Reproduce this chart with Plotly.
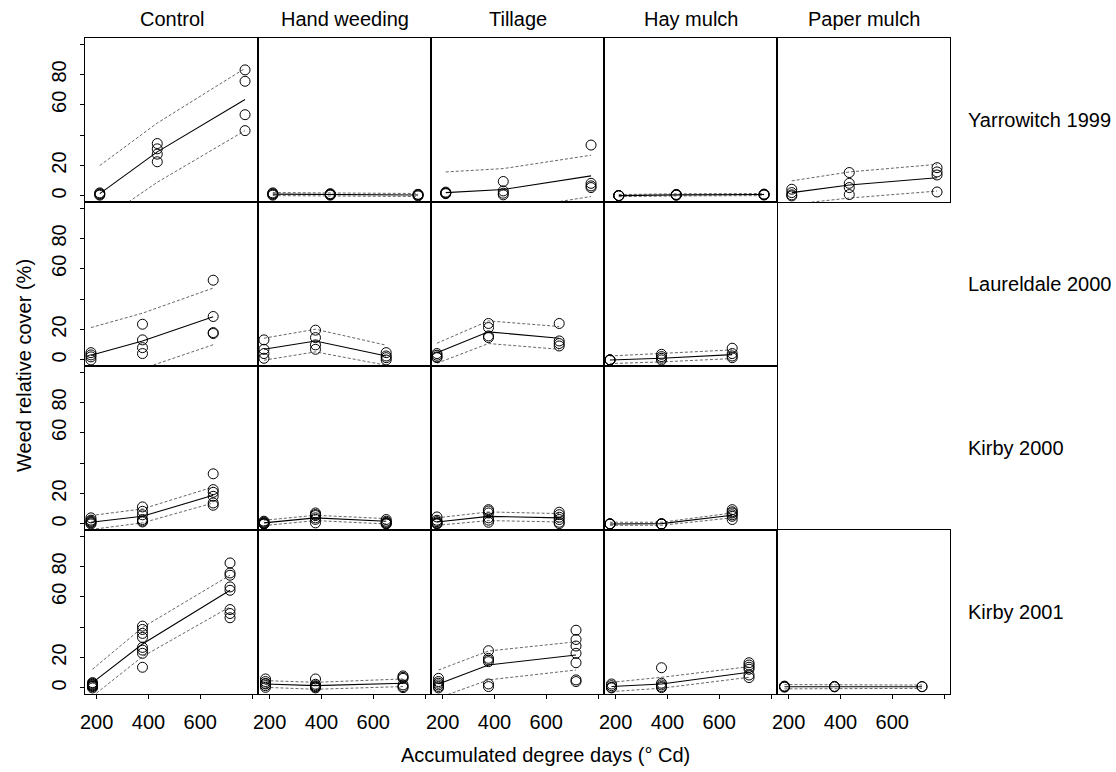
import plotly.graph_objects as go
from plotly.subplots import make_subplots

# ---------------- data ----------------
treatments = ["Control", "Hand weeding", "Tillage", "Hay mulch", "Paper mulch"]
sites = ["Yarrowitch 1999", "Laureldale 2000", "Kirby 2000", "Kirby 2001"]

x_ticks = [200, 400, 600, 800]
x_ticklabels = ["200", "400", "600", ""]
y_ticks = [0, 20, 40, 60, 80, 100]
y_ticklabels = ["0", "20", "", "60", "80", ""]

# sampling times (accumulated degree days) per site
days_yar99 = [212, 434, 773]
days_lau00 = [178, 377, 650]
days_kir00 = [178, 377, 650]
days_kir01 = [184, 377, 715]

# ---- Yarrowitch 1999 ----
yar99_control_obs = [[0.5, 1.0, 2.0, 1.5], [34.5, 31.0, 27.5, 22.5], [83.0, 75.5, 53.5, 43.0]]
yar99_control_fit = [1.5, 29.0, 63.5]
yar99_control_lo = [-17.0, 9.0, 43.0]
yar99_control_hi = [20.0, 48.0, 84.0]

yar99_hand_obs = [[1.5, 0.5, 1.0, 2.0], [1.0, 0.5, 1.5, 1.0], [0.5, 1.0, 0.0, 1.0]]
yar99_hand_fit = [1.2, 1.0, 0.6]
yar99_hand_lo = [0.2, 0.0, -0.4]
yar99_hand_hi = [2.2, 2.0, 1.6]

yar99_till_obs = [[2.0, 1.5, 2.5, 1.8], [9.5, 3.3, 1.8, 0.7], [33.5, 8.3, 6.6, 5.5]]
yar99_till_fit = [2.2, 4.2, 13.2]
yar99_till_lo = [-11.4, -9.6, -0.4]
yar99_till_hi = [15.8, 18.0, 26.8]

yar99_hay_obs = [[0.2, 0.2, 0.2, 0.2], [0.5, 0.8, 1.0, 0.6], [0.6, 1.0, 1.2, 0.8]]
yar99_hay_fit = [0.2, 0.7, 0.9]
yar99_hay_lo = [-0.5, 0.0, 0.2]
yar99_hay_hi = [0.9, 1.4, 1.6]

yar99_paper_obs = [[4.4, 2.2, 0.7, 0.0], [15.4, 8.3, 5.5, 0.9], [18.6, 15.8, 13.8, 2.6]]
yar99_paper_fit = [2.2, 7.2, 12.0]
yar99_paper_lo = [-5.5, -1.4, 3.2]
yar99_paper_hi = [9.9, 15.8, 20.8]

# ---- Laureldale 2000 ----
lau00_control_obs = [[4.8, 3.3, 2.0, 0.0], [23.5, 13.2, 8.1, 4.2], [52.5, 28.6, 18.0, 17.4]]
lau00_control_fit = [3.1, 12.5, 28.4]
lau00_control_lo = [-15.0, -5.8, 10.0]
lau00_control_hi = [21.3, 30.8, 47.3]

lau00_hand_obs = [[13.2, 7.0, 4.2, 1.1], [19.6, 14.7, 9.9, 7.0], [4.8, 2.6, 1.5, 0.0]]
lau00_hand_fit = [7.0, 12.5, 2.6]
lau00_hand_lo = [-0.2, 5.3, -3.5]
lau00_hand_hi = [14.3, 20.2, 9.7]

lau00_till_obs = [[4.2, 3.1, 2.0, 1.5], [24.0, 21.3, 15.8, 14.7], [24.0, 12.5, 10.8, 9.2]]
lau00_till_fit = [4.8, 18.5, 14.3]
lau00_till_lo = [-2.2, 10.8, 7.0]
lau00_till_hi = [11.0, 25.7, 22.0]

lau00_hay_obs = [[0.0, 0.0, 0.0, 0.0], [3.7, 2.2, 1.1, 0.0], [7.7, 4.2, 2.6, 1.5]]
lau00_hay_fit = [0.0, 1.1, 3.5]
lau00_hay_lo = [-2.4, -1.3, 0.9]
lau00_hay_hi = [2.6, 4.2, 6.6]

# ---- Kirby 2000 ----
kir00_control_obs = [[4.0, 1.8, 0.7, 0.0, 1.2, 2.5], [11.2, 8.3, 2.9, 1.3, 6.0, 2.0],
                     [33.0, 22.6, 20.8, 18.2, 13.8, 12.3]]
kir00_control_fit = [1.1, 5.0, 18.9]
kir00_control_lo = [-3.7, 0.7, 13.8]
kir00_control_hi = [5.5, 9.9, 24.3]

kir00_hand_obs = [[1.8, 0.7, 0.0, 0.3, 1.2, 0.0], [7.2, 5.5, 4.0, 0.7, 6.2, 3.0],
                  [2.9, 1.1, 0.2, 0.0, 1.8, 0.6]]
kir00_hand_fit = [0.7, 4.0, 1.8]
kir00_hand_lo = [-1.1, 2.2, 0.0]
kir00_hand_hi = [2.4, 5.7, 3.5]

kir00_till_obs = [[4.6, 2.4, 0.7, 0.0, 1.5, 0.3], [9.4, 7.2, 4.0, 1.1, 8.5, 2.5],
                  [7.7, 6.1, 4.4, 2.9, 1.1, 0.2]]
kir00_till_fit = [1.3, 5.0, 4.0]
kir00_till_lo = [-0.9, 2.2, 1.3]
kir00_till_hi = [4.0, 7.9, 6.8]

kir00_hay_obs = [[0.0, 0.0, 0.0, 0.0], [0.0, 0.0, 0.0, 0.0], [9.4, 7.2, 5.0, 2.9, 8.0, 6.0]]
kir00_hay_fit = [0.0, 0.2, 5.7]
kir00_hay_lo = [-0.9, -0.9, 4.0]
kir00_hay_hi = [1.1, 1.1, 7.2]

# ---- Kirby 2001 ----
kir01_control_obs = [[3.5, 2.4, 1.5, 0.9, 0.0, 2.0, 1.0, 3.0],
                     [40.7, 38.5, 35.9, 33.3, 26.7, 24.9, 22.8, 13.6],
                     [82.3, 75.7, 74.2, 66.5, 64.3, 51.6, 49.0, 46.2]]
kir01_control_fit = [3.5, 28.9, 64.3]
kir01_control_lo = [-5.5, 20.6, 53.4]
kir01_control_hi = [12.3, 39.8, 74.2]

kir01_hand_obs = [[5.9, 4.2, 2.6, 1.5, 0.4, 3.0], [5.9, 2.4, 0.9, 0.0, 1.5, 0.5],
                  [7.9, 6.3, 2.0, 0.9, 0.2, 7.0]]
kir01_hand_fit = [2.6, 1.5, 3.1]
kir01_hand_lo = [0.4, -0.9, 0.9]
kir01_hand_hi = [4.8, 3.7, 5.9]

kir01_till_obs = [[6.3, 4.2, 3.1, 2.0, 0.9, 0.0], [24.5, 19.5, 18.4, 17.3, 2.6, 0.9],
                  [38.0, 31.9, 27.6, 22.8, 16.6, 5.3, 4.2]]
kir01_till_fit = [2.6, 15.1, 21.7]
kir01_till_lo = [-6.6, 5.3, 11.8]
kir01_till_hi = [11.8, 24.3, 30.4]

kir01_hay_obs = [[2.6, 1.5, 0.4, 0.0], [13.3, 3.1, 2.0, 0.9, 0.2], [16.6, 15.1, 13.6, 12.3, 8.5, 6.8]]
kir01_hay_fit = [0.9, 2.6, 10.3]
kir01_hay_lo = [-2.4, -0.2, 7.0]
kir01_hay_hi = [3.7, 7.0, 14.0]

kir01_paper_obs = [[0.9, 0.5, 1.2, 0.8], [0.9, 0.7, 1.0], [0.9, 0.8]]
kir01_paper_fit = [0.8, 0.8, 0.8]
kir01_paper_lo = [-0.6, -0.4, -0.3]
kir01_paper_hi = [2.2, 2.0, 1.9]

# panel table built from the named arrays: (row, col) -> (days, obs, fit, lo, hi)
panels = {
    (1, 1): (days_yar99, yar99_control_obs, yar99_control_fit, yar99_control_lo, yar99_control_hi),
    (1, 2): (days_yar99, yar99_hand_obs, yar99_hand_fit, yar99_hand_lo, yar99_hand_hi),
    (1, 3): (days_yar99, yar99_till_obs, yar99_till_fit, yar99_till_lo, yar99_till_hi),
    (1, 4): (days_yar99, yar99_hay_obs, yar99_hay_fit, yar99_hay_lo, yar99_hay_hi),
    (1, 5): (days_yar99, yar99_paper_obs, yar99_paper_fit, yar99_paper_lo, yar99_paper_hi),
    (2, 1): (days_lau00, lau00_control_obs, lau00_control_fit, lau00_control_lo, lau00_control_hi),
    (2, 2): (days_lau00, lau00_hand_obs, lau00_hand_fit, lau00_hand_lo, lau00_hand_hi),
    (2, 3): (days_lau00, lau00_till_obs, lau00_till_fit, lau00_till_lo, lau00_till_hi),
    (2, 4): (days_lau00, lau00_hay_obs, lau00_hay_fit, lau00_hay_lo, lau00_hay_hi),
    (3, 1): (days_kir00, kir00_control_obs, kir00_control_fit, kir00_control_lo, kir00_control_hi),
    (3, 2): (days_kir00, kir00_hand_obs, kir00_hand_fit, kir00_hand_lo, kir00_hand_hi),
    (3, 3): (days_kir00, kir00_till_obs, kir00_till_fit, kir00_till_lo, kir00_till_hi),
    (3, 4): (days_kir00, kir00_hay_obs, kir00_hay_fit, kir00_hay_lo, kir00_hay_hi),
    (4, 1): (days_kir01, kir01_control_obs, kir01_control_fit, kir01_control_lo, kir01_control_hi),
    (4, 2): (days_kir01, kir01_hand_obs, kir01_hand_fit, kir01_hand_lo, kir01_hand_hi),
    (4, 3): (days_kir01, kir01_till_obs, kir01_till_fit, kir01_till_lo, kir01_till_hi),
    (4, 4): (days_kir01, kir01_hay_obs, kir01_hay_fit, kir01_hay_lo, kir01_hay_hi),
    (4, 5): (days_kir01, kir01_paper_obs, kir01_paper_fit, kir01_paper_lo, kir01_paper_hi),
}

# ---------------- figure ----------------
W, H = 1116, 772
ML, MR, MT, MB = 85, 166, 38, 78
PW, PH = W - ML - MR, H - MT - MB
FONT = "Liberation Sans, Arial, Helvetica, sans-serif"

fig = make_subplots(rows=4, cols=5, horizontal_spacing=0, vertical_spacing=0)

for (r, c), (days, obs, fit, lo, hi) in panels.items():
    for band in (lo, hi):
        fig.add_trace(go.Scatter(x=days, y=band, mode="lines",
                                 line=dict(color="#555555", width=0.9, dash="3px,2px"),
                                 hoverinfo="skip", showlegend=False), row=r, col=c)
    fig.add_trace(go.Scatter(x=days, y=fit, mode="lines",
                             line=dict(color="black", width=1.1),
                             showlegend=False), row=r, col=c)
    xs, ys = [], []
    for d, vals in zip(days, obs):
        xs += [d] * len(vals)
        ys += vals
    fig.add_trace(go.Scatter(x=xs, y=ys, mode="markers",
                             marker=dict(symbol="circle-open", size=10, color="black",
                                         line=dict(width=1, color="black")),
                             cliponaxis=True, showlegend=False), row=r, col=c)

for r in range(1, 5):
    for c in range(1, 6):
        fig.update_xaxes(range=[155, 823], showline=True, mirror=True, linecolor="black",
                         linewidth=1, showgrid=False, zeroline=False, fixedrange=True,
                         row=r, col=c)
        fig.update_yaxes(range=[-4, 104], showline=True, mirror=True, linecolor="black",
                         linewidth=1, showgrid=False, zeroline=False, fixedrange=True,
                         row=r, col=c)
        if r == 4:
            fig.update_xaxes(ticks="outside", ticklen=4, tickcolor="black", tickwidth=1,
                             tickvals=x_ticks, ticktext=x_ticklabels,
                             tickfont=dict(family=FONT, size=20, color="black"),
                             ticklabelstandoff=6, row=r, col=c)
        else:
            fig.update_xaxes(showticklabels=False, ticks="", row=r, col=c)
        if c == 1:
            fig.update_yaxes(ticks="outside", ticklen=4, tickcolor="black", tickwidth=1,
                             tickvals=y_ticks, ticktext=y_ticklabels, tickangle=-90,
                             tickfont=dict(family=FONT, size=20, color="black"),
                             ticklabelstandoff=6, row=r, col=c)
        else:
            fig.update_yaxes(showticklabels=False, ticks="", row=r, col=c)

ann = []
for i, t in enumerate(treatments):
    ann.append(dict(text=t, x=(i + 0.5) / 5, y=1 + 19 / PH, xref="paper", yref="paper",
                    xanchor="center", yanchor="middle", showarrow=False,
                    font=dict(family=FONT, size=20, color="black")))
for j, s in enumerate(sites):
    ann.append(dict(text=s, x=(966 - ML) / PW, y=1 - (j + 0.5) / 4, xref="paper", yref="paper",
                    xanchor="left", yanchor="middle", showarrow=False,
                    font=dict(family=FONT, size=20, color="black")))
ann.append(dict(text="Accumulated degree days (° Cd)", x=(545 - ML) / PW, y=-(755 - (MT + PH)) / PH,
                xref="paper", yref="paper", xanchor="center", yanchor="middle", showarrow=False,
                font=dict(family=FONT, size=20, color="black")))
ann.append(dict(text="Weed relative cover (%)", x=(24 - ML) / PW, y=0.5, textangle=-90,
                xref="paper", yref="paper", xanchor="center", yanchor="middle", showarrow=False,
                font=dict(family=FONT, size=20, color="black")))

fig.update_layout(width=W, height=H, margin=dict(l=ML, r=MR, t=MT, b=MB),
                  paper_bgcolor="white", plot_bgcolor="white", annotations=ann,
                  showlegend=False)

fig.write_html("out.html")
